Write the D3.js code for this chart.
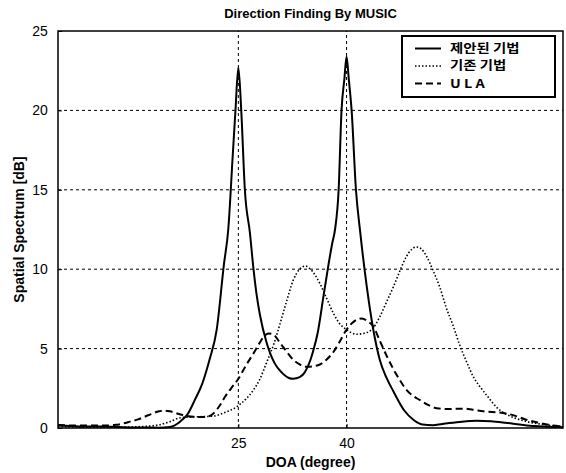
<!DOCTYPE html>
<html>
  <head>
    <!-- Load D3 from site -->
    <script src="https://d3js.org/d3.v7.min.js" charset="utf-8"></script>

    <style type="text/css">
    body {
      margin: 0;
      background: #fff;
    }
    text {
      font-family: "Liberation Sans Narrow", "Liberation Sans", Arial, sans-serif;
      fill: #000;
    }
    .korean {
      font-family: "Noto Sans CJK KR", sans-serif;
      font-weight: bold;
    }
    </style>
  </head>

  <body>

  <script type="text/javascript">
  /* Data: DOA in degrees, spectrum in dB */

  // proposed method (solid)
  var propDeg = [0, 3, 6, 9, 12, 14, 15.5, 17, 18, 19, 20, 21, 22, 23, 23.6, 24.2, 24.6, 25, 25.4, 25.9, 26.6, 27.1, 27.5, 28, 28.9, 30, 31, 32, 32.6, 33.5, 34.2, 35, 35.4, 36, 36.8, 37.5, 38, 38.4, 38.9, 39.3, 39.7, 40, 40.3, 40.7, 41.3, 41.9, 42.8, 43.7, 44.6, 45.5, 46.5, 48, 49.3, 50.5, 52, 54, 56, 58, 60, 62, 64, 66, 68, 70];
  var propDb  = [0.15, 0.1, 0.1, 0.05, 0.03, 0.02, 0.06, 0.43, 0.9, 1.8, 2.8, 4.3, 6.2, 10.3, 12.5, 17, 20, 22.7, 20, 15, 12.3, 10, 8.5, 7.1, 5.4, 4.1, 3.5, 3.15, 3.1, 3.2, 3.5, 4.3, 4.9, 6, 8.3, 10.3, 11.6, 12.5, 15, 20, 22, 23.4, 22, 20, 15, 12.3, 8.9, 6.2, 4.3, 3.2, 2.3, 1.1, 0.5, 0.22, 0.18, 0.3, 0.4, 0.45, 0.42, 0.33, 0.22, 0.12, 0.08, 0.05];

  // existing method (dotted)
  var oldDeg = [0, 4, 8, 12, 14, 15.5, 17, 19, 21.5, 23, 24.8, 26, 27.1, 28, 28.9, 30, 30.8, 31.7, 32.6, 33.5, 34.3, 35, 36.3, 37.2, 38.2, 39, 40, 41.4, 42.3, 43.2, 44, 44.6, 45.5, 46.5, 47.4, 48.3, 49.7, 50.3, 51.1, 52, 52.9, 53.8, 54.8, 55.7, 56.7, 57.6, 58.5, 59.7, 60.8, 62, 63.2, 65, 66.7, 68.5, 70];
  var oldDb  = [0.1, 0.05, 0.05, 0.1, 0.2, 0.4, 0.65, 0.7, 0.75, 0.95, 1.35, 1.8, 2.4, 3.1, 4.1, 5.4, 6.6, 8.0, 9.3, 10.0, 10.2, 10.0, 9.1, 8.2, 7.2, 6.6, 6.2, 5.9, 5.95, 6.1, 6.5, 7.0, 7.9, 8.9, 9.9, 10.8, 11.4, 11.3, 10.8, 9.9, 8.9, 7.6, 6.4, 5.2, 4.1, 3.2, 2.6, 1.9, 1.3, 0.9, 0.65, 0.4, 0.26, 0.15, 0.1];

  // ULA (dashed)
  var ulaDeg = [0, 3, 6, 8, 10, 11.1, 12.5, 14, 14.6, 15.5, 17, 19, 20.5, 21.5, 22.4, 23.2, 24, 25, 26, 27.1, 28, 28.5, 29.2, 29.8, 30.8, 31.7, 32.6, 33.5, 34.5, 35.5, 36.3, 37.2, 38.2, 39, 40, 41, 42.1, 43, 43.7, 44.6, 45.6, 46.5, 47.4, 48.3, 49.3, 50.2, 51.3, 52.5, 54, 56.2, 57.5, 59, 61.7, 63.5, 64.7, 66.5, 68, 70];
  var ulaDb  = [0.2, 0.15, 0.15, 0.2, 0.4, 0.54, 0.8, 1.05, 1.1, 1.05, 0.85, 0.7, 0.7, 0.9, 1.4, 2.0, 2.5, 3.1, 3.9, 4.7, 5.4, 5.75, 5.95, 5.9, 5.35, 4.8, 4.3, 4.0, 3.85, 3.9, 4.0, 4.3, 4.8, 5.4, 6.2, 6.7, 6.9, 6.7, 6.4, 5.5, 4.5, 3.7, 3.0, 2.4, 2.0, 1.75, 1.45, 1.25, 1.2, 1.22, 1.15, 1.05, 0.95, 0.75, 0.55, 0.35, 0.2, 0.1];

  // ticks and labels
  var xTicks = [25, 40];
  var yTicks = [0, 5, 10, 15, 20, 25];
  var legendNames = ["제안된 기법", "기존 기법", "U L A"];

  var width = 566, height = 473;
  var margin = {left: 58, right: 3, top: 31, bottom: 45};

  var svg = d3.select("body").append("svg")
    .attr("width", width)
    .attr("height", height);

  var x = d3.scaleLinear().domain([0, 70]).range([margin.left, width - margin.right]);
  var y = d3.scaleLinear().domain([0, 25]).range([height - margin.bottom, margin.top]);

  // grid lines (dashed, black)
  svg.selectAll("line.hgrid")
    .data(yTicks.slice(1, -1))
    .enter().append("line")
    .attr("class", "hgrid")
    .attr("x1", x(0)).attr("x2", x(70))
    .attr("y1", function(d) { return y(d); })
    .attr("y2", function(d) { return y(d); })
    .attr("stroke", "#000").attr("stroke-width", 1)
    .attr("stroke-dasharray", "3,3");

  svg.selectAll("line.vgrid")
    .data(xTicks)
    .enter().append("line")
    .attr("class", "vgrid")
    .attr("y1", y(0)).attr("y2", y(25))
    .attr("x1", function(d) { return x(d); })
    .attr("x2", function(d) { return x(d); })
    .attr("stroke", "#000").attr("stroke-width", 1)
    .attr("stroke-dasharray", "3,3");

  // axes
  var xAxis = d3.axisBottom(x).tickValues(xTicks).tickSize(4).tickSizeOuter(0);
  var yAxis = d3.axisLeft(y).tickValues(yTicks).tickSize(3).tickSizeOuter(0);

  var gx = svg.append("g").attr("transform", "translate(0," + y(0) + ")").call(xAxis);
  var gy = svg.append("g").attr("transform", "translate(" + x(0) + ",0)").call(yAxis);
  gx.selectAll("text").attr("font-size", 14).attr("dy", "0.9em").style("font-family", "Liberation Sans Narrow, Arial");
  gy.selectAll("text").attr("font-size", 14).attr("dx", "-0.3em").style("font-family", "Liberation Sans Narrow, Arial");
  gx.selectAll(".domain").remove();
  gy.selectAll(".domain").remove();
  gx.selectAll("line").attr("y2", -4);
  gy.selectAll("line").attr("x2", 4);

  // curves
  var line = d3.line()
    .x(function(d) { return x(d[0]); })
    .y(function(d) { return y(d[1]); })
    .curve(d3.curveMonotoneX);

  var series = [
    {deg: propDeg, db: propDb, dash: null, w: 2},
    {deg: oldDeg, db: oldDb, dash: "1.5,2", w: 1.6},
    {deg: ulaDeg, db: ulaDb, dash: "7,4", w: 2}
  ];

  svg.selectAll("path.curve")
    .data(series)
    .enter().append("path")
    .attr("class", "curve")
    .attr("d", function(s) { return line(d3.zip(s.deg, s.db)); })
    .attr("fill", "none")
    .attr("stroke", "#000")
    .attr("stroke-width", function(s) { return s.w; })
    .attr("stroke-dasharray", function(s) { return s.dash; });

  // frame
  svg.append("rect")
    .attr("x", x(0)).attr("y", y(25))
    .attr("width", x(70) - x(0)).attr("height", y(0) - y(25))
    .attr("fill", "none").attr("stroke", "#000").attr("stroke-width", 1.5);

  // titles
  svg.append("text")
    .attr("x", (x(0) + x(70)) / 2).attr("y", 18)
    .attr("text-anchor", "middle")
    .attr("font-size", 13).attr("font-weight", "bold")
    .text("Direction Finding By MUSIC");

  svg.append("text")
    .attr("x", (x(0) + x(70)) / 2).attr("y", 467)
    .attr("text-anchor", "middle")
    .attr("font-size", 14).attr("font-weight", "bold")
    .text("DOA (degree)");

  svg.append("text")
    .attr("transform", "translate(24," + (y(0) + y(25)) / 2 + ") rotate(-90)")
    .attr("text-anchor", "middle")
    .attr("font-size", 14).attr("font-weight", "bold")
    .text("Spatial Spectrum [dB]");

  // legend box
  var lg = svg.append("g").attr("transform", "translate(402,36)");
  lg.append("rect")
    .attr("width", 153).attr("height", 61)
    .attr("fill", "#fff").attr("stroke", "#000").attr("stroke-width", 2);

  var items = lg.selectAll("g.item")
    .data(series)
    .enter().append("g")
    .attr("class", "item")
    .attr("transform", function(d, i) { return "translate(0," + (12.5 + i * 17.5) + ")"; });

  items.append("line")
    .attr("x1", 13).attr("x2", 39)
    .attr("stroke", "#000")
    .attr("stroke-width", function(s) { return s.w; })
    .attr("stroke-dasharray", function(s) { return s.dash; });

  // stretch the Korean labels sideways a bit, like the wide glyphs in the picture
  items.append("text")
    .attr("class", "korean")
    .attr("transform", "translate(48,0) scale(1.2,1)")
    .attr("dy", "0.36em")
    .attr("font-size", 12)
    .text(function(d, i) { return legendNames[i]; });

  </script>

  </body>
</html>
